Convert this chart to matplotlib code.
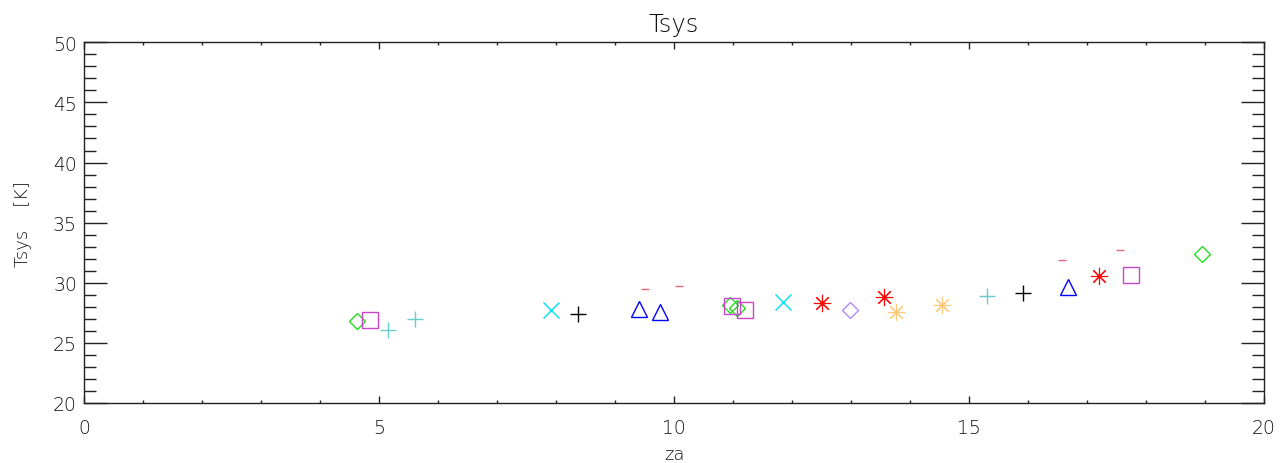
import matplotlib
matplotlib.use("Agg")
import matplotlib.pyplot as plt
from matplotlib.ticker import MultipleLocator

# ---- data (za, Tsys) per series ----
green_dia_x = [4.62, 10.95, 11.06, 18.95]
green_dia_y = [26.83, 28.17, 27.89, 32.39]
mag_sq_x = [4.85, 10.98, 11.21, 17.75]
mag_sq_y = [26.94, 28.10, 27.73, 30.68]
teal_plus_x = [5.16, 5.61, 15.30]
teal_plus_y = [26.11, 26.97, 28.86]
cyan_x_x = [7.92, 11.85]
cyan_x_y = [27.70, 28.39]
black_plus_x = [8.38, 15.92]
black_plus_y = [27.42, 29.14]
blue_tri_x = [9.40, 9.76, 16.68]
blue_tri_y = [27.80, 27.57, 29.61]
dash_x = [9.50, 10.09, 16.58, 17.56]
dash_y = [29.44, 29.69, 31.89, 32.72]
red_ast_x = [12.50, 13.56, 17.21]
red_ast_y = [28.31, 28.81, 30.53]
purple_dia_x = [12.98]
purple_dia_y = [27.75]
orange_ast_x = [13.77, 14.54]
orange_ast_y = [27.61, 28.17]

title = "Tsys"
xlabel = "za"
ylabel = "Tsys    [K]"

plt.rcParams['font.family'] = ['DejaVu Sans']
plt.rcParams['font.weight'] = 'light'
plt.rcParams['axes.titleweight'] = 'light'
plt.rcParams['axes.labelweight'] = 'light'
txt = '#111111'

fig = plt.figure(figsize=(12.8, 4.64), dpi=100)
ax = fig.add_axes([84/1280, 1-404/464, (1264-84)/1280, (404-43.3)/464])

ast = (8, 2, 0)
series = [
    (green_dia_x, green_dia_y, 'D', '#22dd22', 8.6, 1.0),
    (mag_sq_x, mag_sq_y, 's', '#cc44cc', 12.2, 1.0),
    (teal_plus_x, teal_plus_y, '+', '#66cccc', 12.2, 1.0),
    (cyan_x_x, cyan_x_y, 'x', '#00e0f0', 12.2, 1.0),
    (black_plus_x, black_plus_y, '+', '#000000', 12.2, 1.0),
    (blue_tri_x, blue_tri_y, '^', '#0000ff', 12.2, 1.0),
    (dash_x, dash_y, '_', '#e06878', 5.8, 1.0),
    (red_ast_x, red_ast_y, ast, '#ff0000', 12.4, 0.8),
    (purple_dia_x, purple_dia_y, 'D', '#b088ff', 8.6, 1.0),
    (orange_ast_x, orange_ast_y, ast, '#ffc878', 12.4, 0.8),
]
for xs, ys, m, c, ms, mew in series:
    ax.plot(xs, ys, linestyle='none', marker=m, markersize=ms,
            markerfacecolor='none', markeredgecolor=c, markeredgewidth=mew)

ax.set_xlim(0, 20)
ax.set_ylim(20, 50)
ax.xaxis.set_major_locator(MultipleLocator(5))
ax.xaxis.set_minor_locator(MultipleLocator(1))
ax.yaxis.set_major_locator(MultipleLocator(5))
ax.yaxis.set_minor_locator(MultipleLocator(1))

for s in ax.spines.values():
    s.set_linewidth(1.0)
    s.set_color('#222222')

ax.tick_params(axis='x', which='major', direction='in', length=5.3, width=1,
               top=True, bottom=True, pad=11, labelsize=13.5, labelcolor=txt, color='#222222')
ax.tick_params(axis='x', which='minor', direction='in', length=2.5, width=1,
               top=True, bottom=True, color='#222222')
ax.tick_params(axis='y', which='major', direction='in', length=16.6, width=1,
               left=True, right=True, pad=5, labelsize=13.5, labelcolor=txt, color='#222222')
ax.tick_params(axis='y', which='minor', direction='in', length=8.6, width=1,
               left=True, right=True, color='#222222')

fig.canvas.draw()
yt = ax.yaxis.get_major_ticks()
yt[0].label1.set_verticalalignment('bottom')
yt[-1].label1.set_verticalalignment('top')

ax.set_title(title, fontsize=17.5, color=txt, pad=8)
ax.set_xlabel(xlabel, fontsize=13, color=txt)
ax.set_ylabel(ylabel, fontsize=13, color=txt)
ax.xaxis.set_label_coords(0.5, -(446 - 404) / (404 - 43.3))
ax.yaxis.set_label_coords(-(84 - 32) / 1180, 0.5)

fig.savefig("out.png", dpi=100, facecolor='white')
